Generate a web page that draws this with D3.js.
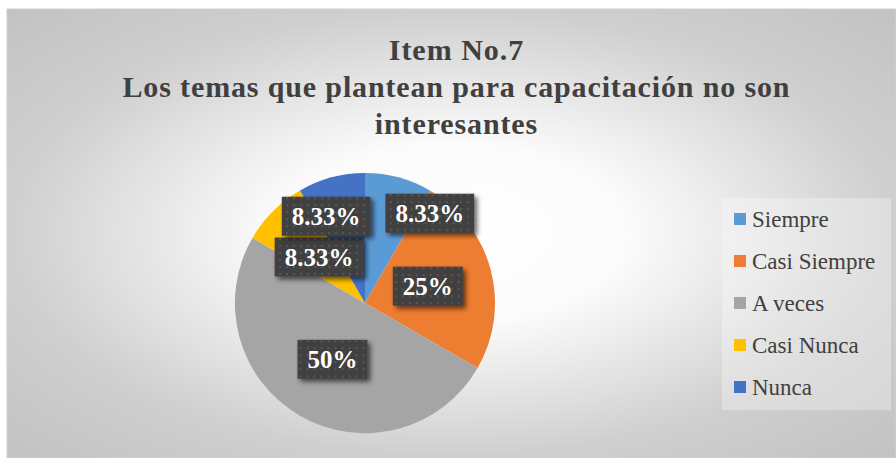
<!DOCTYPE html>
<html><head><meta charset="utf-8">
<script src="https://cdn.jsdelivr.net/npm/d3@7"></script>
<style>html,body{margin:0;padding:0;background:#fff;}svg{display:block;}
.serif{font-family:"Liberation Serif","Times New Roman",Times,Tinos,"DejaVu Serif",serif;}</style>
</head><body>
<svg id="chart" width="896" height="458"></svg>
<script>
const titleLines = ["Item No.7", "Los temas que plantean para capacitación no son", "interesantes"];
const categories = ["Siempre", "Casi Siempre", "A veces", "Casi Nunca", "Nunca"];
const values = [8.33, 25, 50, 8.33, 8.33];
const labels = ["8.33%", "25%", "50%", "8.33%", "8.33%"];
const colors = ["#5B9BD5", "#ED7D31", "#A5A5A5", "#FFC000", "#4472C4"];
// manual label nudges (Excel best-fit moved the two crowded labels)
const labelNudge = [[48, -27], [0, 0], [0, 0], [0, 0], [-22, -24]];

const svg = d3.select("#chart");
const defs = svg.append("defs");

const bg = defs.append("radialGradient").attr("id", "bg")
  .attr("cx", "0.5").attr("cy", "0.5").attr("r", "0.71");
bg.append("stop").attr("offset", 0).attr("stop-color", "#ffffff");
bg.append("stop").attr("offset", 0.28).attr("stop-color", "#fbfbfb");
bg.append("stop").attr("offset", 0.7).attr("stop-color", "#cfcfcf");
bg.append("stop").attr("offset", 1).attr("stop-color", "#c2c2c2");

const pat = defs.append("pattern").attr("id", "dots").attr("patternUnits", "userSpaceOnUse")
  .attr("width", 7).attr("height", 7);
pat.append("rect").attr("width", 7).attr("height", 7).attr("fill", "#404040");
pat.append("rect").attr("x", 2).attr("y", 2).attr("width", 2).attr("height", 2).attr("fill", "#575757");

const sh = defs.append("filter").attr("id", "shadow").attr("x", "-20%").attr("y", "-30%").attr("width", "150%").attr("height", "170%");
sh.append("feGaussianBlur").attr("in", "SourceAlpha").attr("stdDeviation", 2.5).attr("result", "b");
sh.append("feOffset").attr("in", "b").attr("dx", 3).attr("dy", 3).attr("result", "o");
sh.append("feComponentTransfer").attr("in", "o").attr("result", "o2")
  .append("feFuncA").attr("type", "linear").attr("slope", 0.6);
const mg = sh.append("feMerge");
mg.append("feMergeNode").attr("in", "o2");
mg.append("feMergeNode").attr("in", "SourceGraphic");

// chart area
svg.append("rect").attr("x", 7).attr("y", 9).attr("width", 889).attr("height", 449)
  .attr("fill", "url(#bg)").attr("stroke", "#d0d0d0").attr("stroke-width", 1);

// title
const titleY = [60, 97, 134];
const tNodes = titleLines.map((t, i) => svg.append("text").attr("class", "serif")
  .attr("text-anchor", "middle").attr("x", 456).attr("y", titleY[i])
  .attr("font-weight", "bold").attr("font-size", 30).attr("fill", "#404040").text(t));
const k = 667 / tNodes[1].node().getComputedTextLength();
tNodes.forEach(n => {
  const w = n.node().getComputedTextLength();
  n.attr("textLength", w * k).attr("lengthAdjust", "spacing");
});

// pie
const cx = 365, cy = 303, R = 130;
const pie = d3.pie().sort(null).value(d => d)(values);
const arc = d3.arc().innerRadius(0).outerRadius(R);
const labelArc = d3.arc().innerRadius(R / 2).outerRadius(R / 2);
const g = svg.append("g").attr("transform", `translate(${cx},${cy})`);
g.selectAll("path.slice").data(pie).join("path").attr("class", "slice")
  .attr("d", arc).attr("fill", (d, i) => colors[i]);

// labels
const lg = g.selectAll("g.lab").data(pie).join("g").attr("class", "lab")
  .attr("transform", (d, i) => {
    const [x0, y0] = labelArc.centroid(d);
    return `translate(${x0 + labelNudge[i][0]},${y0 + labelNudge[i][1]})`;
  });
lg.each(function(d, i) {
  const s = d3.select(this);
  const t = s.append("text").attr("class", "serif").attr("text-anchor", "middle").attr("dy", "0.36em")
    .attr("font-weight", "bold").attr("font-size", 25).attr("fill", "#ffffff")
    .text(labels[i]);
  const w = t.node().getComputedTextLength() + 20;
  s.insert("rect", "text").attr("x", -w / 2).attr("y", -19.5).attr("width", w).attr("height", 39)
    .attr("fill", "url(#dots)").attr("filter", "url(#shadow)");
});

// legend
const legX = 722, legY = 198;
svg.append("rect").attr("x", legX).attr("y", legY).attr("width", 169).attr("height", 212)
  .attr("fill", "#ffffff").attr("fill-opacity", 0.3);
const leg = svg.append("g");
const rowY = d3.scalePoint().domain(categories).range([219, 387]);
categories.forEach((c, i) => {
  const y = rowY(c);
  leg.append("rect").attr("x", 734).attr("y", y - 6).attr("width", 12).attr("height", 12).attr("fill", colors[i]);
  leg.append("text").attr("class", "serif").attr("x", 752).attr("y", y + 8)
    .attr("font-size", 23).attr("fill", "#404040").text(c);
});
</script>
</body></html>
